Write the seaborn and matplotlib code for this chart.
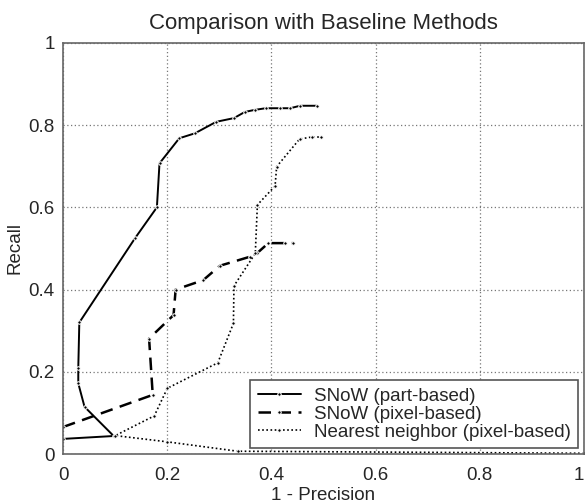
import matplotlib
matplotlib.use("Agg")
import matplotlib.pyplot as plt
import seaborn as sns
import pandas as pd

# SNoW (part-based)
part_x = [0.0, 0.097, 0.041, 0.029, 0.029, 0.031, 0.138, 0.18, 0.185, 0.223, 0.253,
          0.294, 0.328, 0.349, 0.368, 0.389, 0.417, 0.436, 0.455, 0.487]
part_y = [0.037, 0.044, 0.115, 0.172, 0.209, 0.32, 0.525, 0.6, 0.707, 0.768, 0.78,
          0.808, 0.817, 0.832, 0.837, 0.841, 0.841, 0.841, 0.847, 0.847]

# SNoW (pixel-based)
pix_x = [0.0, 0.172, 0.165, 0.212, 0.216, 0.269, 0.301, 0.359, 0.372, 0.394, 0.426, 0.442]
pix_y = [0.066, 0.144, 0.281, 0.338, 0.4, 0.423, 0.458, 0.48, 0.488, 0.513, 0.513, 0.513]

# Nearest neighbor (pixel-based)
nn_x = [1.0, 0.335, 0.199, 0.1, 0.175, 0.2, 0.297, 0.327, 0.328, 0.369, 0.373,
        0.407, 0.41, 0.454, 0.477, 0.495]
nn_y = [0.002, 0.007, 0.03, 0.045, 0.093, 0.16, 0.222, 0.318, 0.409, 0.488, 0.606,
        0.652, 0.699, 0.766, 0.771, 0.771]

labels = ["SNoW (part-based)", "SNoW (pixel-based)", "Nearest neighbor (pixel-based)"]
ticks = [0, 0.2, 0.4, 0.6, 0.8, 1]
tick_labels = ["0", "0.2", "0.4", "0.6", "0.8", "1"]

sns.set_style("white")
plt.rcParams["font.family"] = ["Liberation Sans", "DejaVu Sans"]

fig = plt.figure(figsize=(5.85, 5.04), dpi=100)
ax = fig.add_axes([0.108, 0.099, 0.89, 0.816])

series = [(part_x, part_y, "-", 1.4), (pix_x, pix_y, (0, (5, 3)), 1.8),
          (nn_x, nn_y, (0, (1, 1.5)), 1.2)]
for (xs, ys, ls, lw), lab in zip(series, labels):
    df = pd.DataFrame({"x": xs, "y": ys})
    sns.lineplot(data=df, x="x", y="y", sort=False, estimator=None, ax=ax,
                 color="black", linestyle=ls, linewidth=lw, marker=".",
                 markersize=5, label=lab)

ax.set_xlim(0, 1)
ax.set_ylim(0, 1)
ax.set_xticks(ticks)
ax.set_xticklabels(tick_labels)
ax.set_yticks(ticks)
ax.set_yticklabels(tick_labels)
ax.tick_params(direction="in", length=4, labelsize=13.5, color="#555555")
ax.tick_params(axis="x", pad=9)
ax.tick_params(axis="y", pad=6)
ax.get_xticklabels()[-1].set_horizontalalignment("right")
ax.grid(True, linestyle=(0, (1, 2)), color="#777777", linewidth=0.9)
for s in ax.spines.values():
    s.set_color("#666666")
    s.set_linewidth(1.2)
ax.set_xlabel("1 - Precision", fontsize=13.5)
ax.xaxis.label.set_verticalalignment("baseline")
ax.xaxis.set_label_coords(0.5, -0.112)
ax.set_ylabel("Recall", fontsize=13.5, labelpad=4)
ax.set_title("Comparison with Baseline Methods", fontsize=16, pad=10)

leg = ax.legend(loc="lower right", fontsize=13.5, frameon=True, fancybox=False,
                edgecolor="#555555", framealpha=1, borderpad=0.4, labelspacing=0.05,
                handlelength=2.3, handletextpad=0.7, borderaxespad=0.3)
leg.get_frame().set_linewidth(1.2)

fig.savefig("out.png", dpi=100)
